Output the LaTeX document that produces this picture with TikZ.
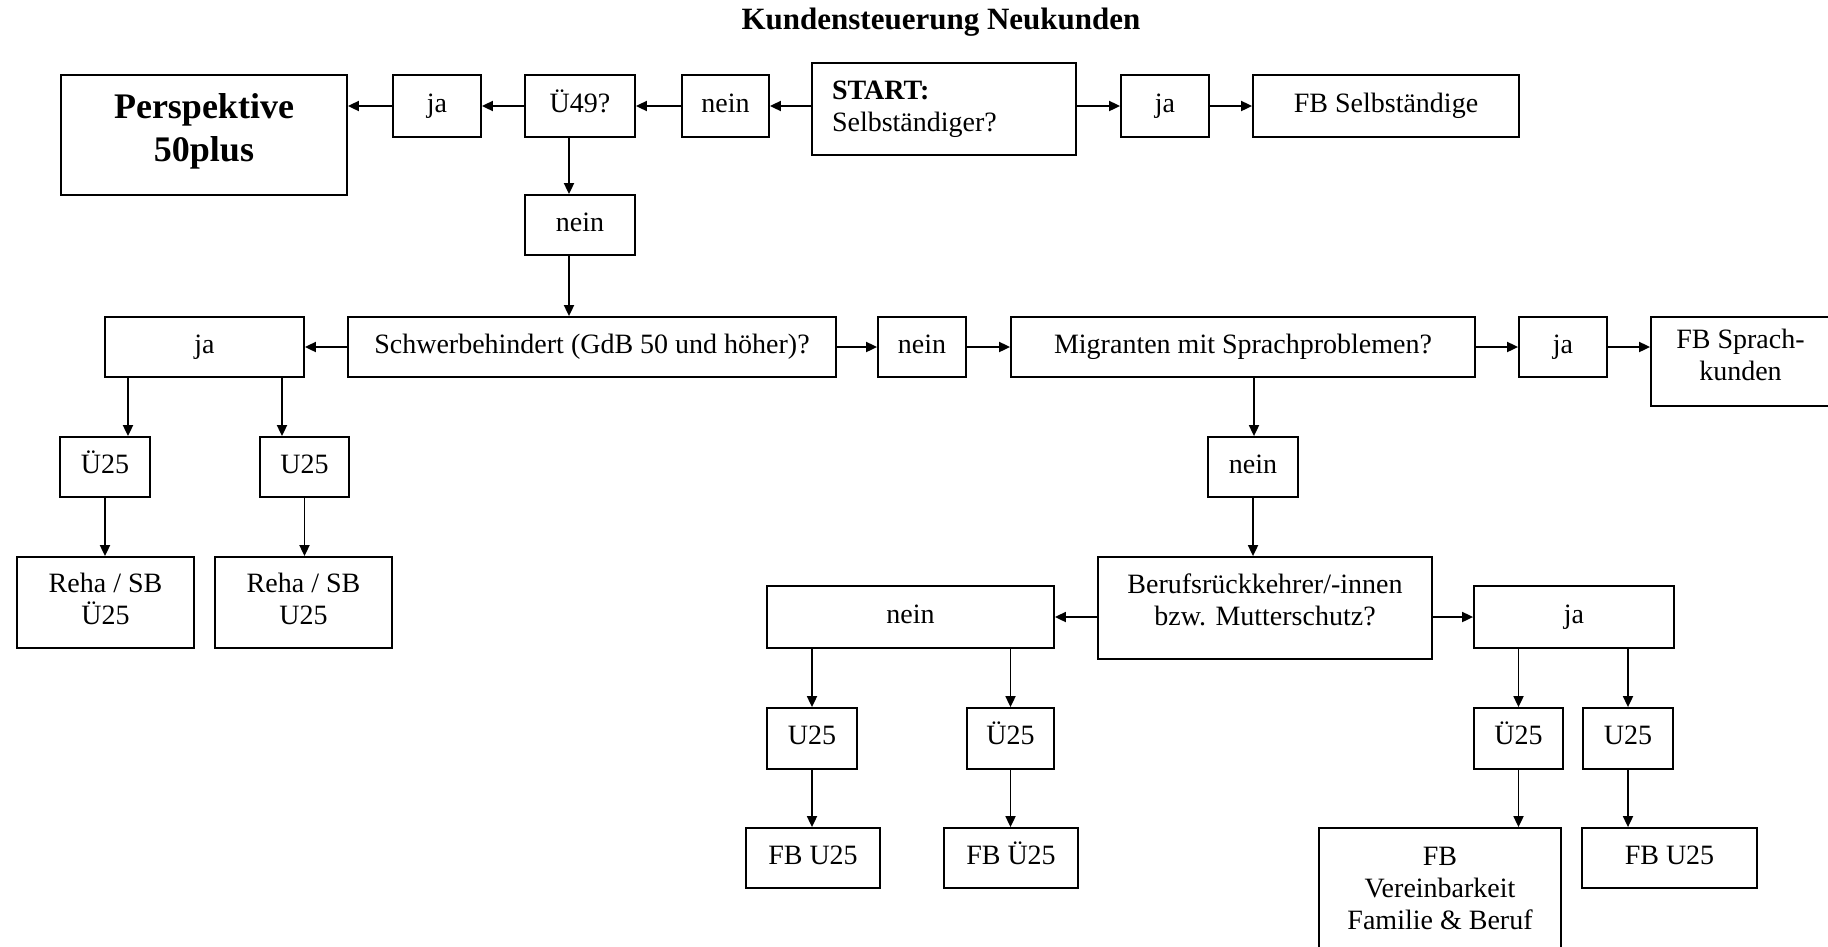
\documentclass[tikz,border=0pt]{standalone}
\usepackage{fontspec}
\setmainfont{Liberation Serif}
\usetikzlibrary{arrows.meta,calc}
\tikzset{
  box/.style={draw, line width=1.8pt, inner sep=0pt, font=\fontsize{28}{32}\selectfont, text height=19pt, text depth=7pt},
  mbox/.style={draw, line width=1.8pt, inner sep=0pt, font=\fontsize{28}{32}\selectfont, align=center},
  frame/.style={draw, line width=1.8pt, inner sep=0pt},
  plain/.style={inner sep=0pt, font=\fontsize{28}{32}\selectfont, align=center},
  arr/.style={line width=1.8pt, -{Triangle[length=11pt,width=10pt]}},
}
\begin{document}
\begin{tikzpicture}[x=1pt,y=-1pt]
\fill[white] (0,0) rectangle (1828,946);
\useasboundingbox (0,0) rectangle (1828,946);

\node[inner sep=0pt, font=\fontsize{31}{36}\selectfont\bfseries] (title) at (941,22) {Kundensteuerung Neukunden};

% top row
\node[frame, minimum width=286pt, minimum height=120pt] (persp) at (204,135) {};
\node[plain, font=\fontsize{36}{43}\selectfont\bfseries] (perspT) at (204,131) {Perspektive\\50plus};
\node[box, minimum width=88pt, minimum height=62pt] (ja1) at (437,106) {ja};
\node[box, minimum width=110pt, minimum height=62pt] (ue49) at (580,106) {Ü49?};
\node[box, minimum width=87pt, minimum height=62pt] (nein1) at (725.5,106) {nein};
\node[mbox, align=left, minimum width=264pt, minimum height=92pt, inner xsep=20pt, text width=224pt] (start) at (944,109) {{\bfseries START:}\\Selbständiger?};
\node[box, minimum width=88pt, minimum height=62pt] (ja2) at (1165,106) {ja};
\node[box, minimum width=266pt, minimum height=62pt] (fbself) at (1386,106) {FB Selbständige};
\node[box, minimum width=110pt, minimum height=60pt] (nein2) at (580,225) {nein};

% second row
\node[box, minimum width=199pt, minimum height=60pt] (jaL) at (204.5,347) {ja};
\node[box, minimum width=488pt, minimum height=60pt] (schw) at (592,347) {Schwerbehindert (GdB 50 und höher)?};
\node[box, minimum width=88pt, minimum height=60pt] (neinM) at (922,347) {nein};
\node[box, minimum width=464pt, minimum height=60pt] (migr) at (1243,347) {Migranten mit Sprachproblemen?};
\node[box, minimum width=88pt, minimum height=60pt] (jaR) at (1563,347) {ja};
\node[frame, minimum width=179pt, minimum height=89pt] (fbspr) at (1740.5,361.5) {};
\node[plain] (fbsprT) at (1740.5,355) {FB Sprach-\\kunden};

% left branch
\node[box, minimum width=90pt, minimum height=60pt] (ue25a) at (105,467) {Ü25};
\node[box, minimum width=89pt, minimum height=60pt] (u25a) at (304.5,467) {U25};
\node[frame, minimum width=177pt, minimum height=91pt] (reha1) at (105.5,602.5) {};
\node[plain] (reha1T) at (105.5,599) {Reha / SB\\Ü25};
\node[frame, minimum width=177pt, minimum height=91pt] (reha2) at (303.5,602.5) {};
\node[plain] (reha2T) at (303.5,599) {Reha / SB\\U25};

% right branch
\node[box, minimum width=90pt, minimum height=60pt] (nein3) at (1253,467) {nein};
\node[frame, minimum width=334pt, minimum height=102pt] (beruf) at (1265,608) {};
\node[plain] (berufT) at (1265,600) {Berufsrückkehrer/-innen\\bzw. Mutterschutz?};
\node[box, minimum width=287pt, minimum height=62pt] (neinB) at (910.5,617) {nein};
\node[box, minimum width=200pt, minimum height=62pt] (jaB) at (1574,617) {ja};

\node[box, minimum width=90pt, minimum height=61pt] (u25b) at (812,738.5) {U25};
\node[box, minimum width=87pt, minimum height=61pt] (ue25b) at (1010.5,738.5) {Ü25};
\node[box, minimum width=89pt, minimum height=61pt] (ue25c) at (1518.5,738.5) {Ü25};
\node[box, minimum width=90pt, minimum height=61pt] (u25c) at (1628,738.5) {U25};

\node[box, minimum width=134pt, minimum height=60pt] (fbu25a) at (813,858) {FB U25};
\node[box, minimum width=134pt, minimum height=60pt] (fbue25a) at (1011,858) {FB Ü25};
\node[frame, minimum width=242pt, minimum height=132pt] (fbver) at (1440,894) {};
\node[plain] (fbverT) at (1440,888) {FB\\Vereinbarkeit\\Familie \& Beruf};
\node[box, minimum width=175pt, minimum height=60pt] (fbu25b) at (1669.5,858) {FB U25};

% helper coordinates
\coordinate (u49s) at ([xshift=-11pt]ue49.south);
\coordinate (n2s) at ([xshift=-11pt]nein2.south);
\coordinate (jl1) at ([xshift=-76.5pt]jaL.south);
\coordinate (jl2) at ([xshift=77.5pt]jaL.south);
\coordinate (mgs) at ([xshift=11pt]migr.south);

% connectors top row
\draw[arr] (start.west |- nein1) -- (nein1.east);
\draw[arr] (nein1.west) -- (ue49.east);
\draw[arr] (ue49.west) -- (ja1.east);
\draw[arr] (ja1.west) -- (ja1.west -| persp.east);
\draw[arr] (start.east |- ja2) -- (ja2.west);
\draw[arr] (ja2.east) -- (fbself.west);
\draw[arr] (u49s) -- (u49s |- nein2.north);
\draw[arr] (n2s) -- (n2s |- schw.north);

% second row
\draw[arr] (schw.west) -- (jaL.east);
\draw[arr] (schw.east) -- (neinM.west);
\draw[arr] (neinM.east) -- (migr.west);
\draw[arr] (migr.east) -- (jaR.west);
\draw[arr] (jaR.east) -- (jaR.east -| fbspr.west);

% left branch
\draw[arr] (jl1) -- (jl1 |- ue25a.north);
\draw[arr] (jl2) -- (jl2 |- u25a.north);
\draw[arr] (ue25a.south) -- (ue25a.south |- reha1.north);
\draw[arr] (u25a.south) -- (u25a.south |- reha2.north);

% right branch
\draw[arr] (mgs) -- (mgs |- nein3.north);
\draw[arr] (nein3.south) -- (nein3.south |- beruf.north);
\draw[arr] (beruf.west |- neinB) -- (neinB.east);
\draw[arr] (beruf.east |- jaB) -- (jaB.west);
\draw[arr] (u25b.north |- neinB.south) -- (u25b.north);
\draw[arr] (ue25b.north |- neinB.south) -- (ue25b.north);
\draw[arr] (ue25c.north |- jaB.south) -- (ue25c.north);
\draw[arr] (u25c.north |- jaB.south) -- (u25c.north);
\draw[arr] (u25b.south) -- (u25b.south |- fbu25a.north);
\draw[arr] (ue25b.south) -- (ue25b.south |- fbue25a.north);
\draw[arr] (ue25c.south) -- (ue25c.south |- fbver.north);
\draw[arr] (u25c.south) -- (u25c.south |- fbu25b.north);
\end{tikzpicture}
\end{document}
